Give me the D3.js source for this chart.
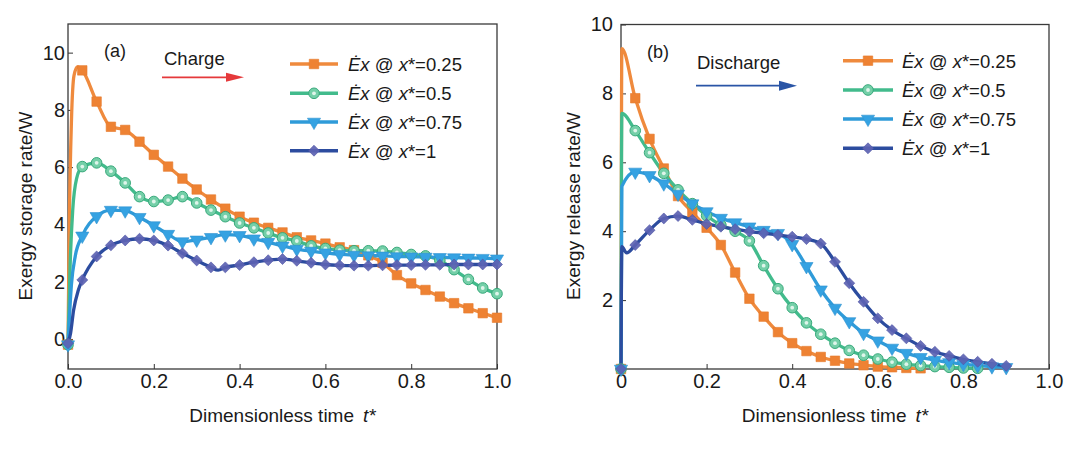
<!DOCTYPE html>
<html><head><meta charset="utf-8">
<script src="https://cdn.jsdelivr.net/npm/d3@7"></script>
<style>
body{margin:0;background:#fff}
svg{font-family:"Liberation Sans",Arial,Helvetica,sans-serif;display:block}
</style>
</head><body>
<svg id="c" width="1080" height="452"></svg>
<script>
// ---------- shared ----------
const tMarks = [0,0.0333,0.0667,0.1,0.1333,0.1667,0.2,0.2333,0.2667,0.3,0.3333,0.3667,0.4,0.4333,0.4667,0.5,0.5333,0.5667,0.6,0.6333,0.6667,0.7,0.7333,0.7667,0.8,0.8333,0.8667,0.9,0.9333,0.9667,1.0];
const seriesLabels = ["0.25","0.5","0.75","1"];
const xTickVals = [0,0.2,0.4,0.6,0.8,1.0];
const aYTicks = [0,2,4,6,8,10];
const bYTicks = [2,4,6,8,10];

// ---------- panel (a): charge ----------
const aOrange    = [-0.2,9.38,8.29,7.41,7.30,6.89,6.43,6.02,5.6,5.22,4.87,4.55,4.27,4.06,3.88,3.72,3.55,3.44,3.33,3.2,3.1,2.92,2.66,2.23,1.94,1.71,1.48,1.25,1.07,0.9,0.74];
const aGreen     = [-0.2,6.02,6.15,5.86,5.45,4.97,4.8,4.85,4.97,4.75,4.5,4.27,4.05,3.88,3.7,3.53,3.42,3.25,3.16,3.1,3.08,3.08,3.07,3.02,2.95,2.9,2.75,2.42,2.08,1.78,1.58];
const aLightBlue = [-0.2,3.6,4.28,4.5,4.48,4.25,3.96,3.66,3.4,3.46,3.55,3.64,3.62,3.5,3.38,3.25,3.14,3.07,3.01,2.96,2.93,2.91,2.9,2.88,2.87,2.86,2.85,2.84,2.83,2.82,2.8];
const aDarkBlue  = [-0.15,2.06,2.88,3.27,3.44,3.5,3.44,3.26,2.99,2.74,2.5,2.5,2.58,2.68,2.75,2.79,2.73,2.66,2.6,2.57,2.56,2.56,2.57,2.58,2.58,2.59,2.59,2.6,2.6,2.6,2.6];
// extra (unmarked) line points [t, value]
const aOrangeExtra    = [[0.003,4.0],[0.008,7.6],[0.014,9.2],[0.022,9.5]];
const aGreenExtra     = [[0.005,2.6],[0.011,4.5],[0.02,5.6]];
const aLightBlueExtra = [[0.008,1.9],[0.017,2.9]];
const aDarkBlueExtra  = [[0.006,0.2],[0.013,1.0],[0.024,1.7],[0.35,2.4]];

// ---------- panel (b): discharge ----------
const bOrange    = [0,7.86,6.68,5.82,5.02,4.55,4.1,3.6,2.8,2.04,1.52,1.07,0.75,0.52,0.35,0.24,0.16,0.11,0.07,0.05,0.03,0.02];
const bGreen     = [0,6.92,6.28,5.68,5.2,4.8,4.45,4.18,4.0,3.72,3.0,2.33,1.78,1.34,1.01,0.75,0.54,0.4,0.29,0.2,0.14,0.1,0.07,0.05,0.03,0.02];
const bLightBlue = [0,5.72,5.62,5.38,5.08,4.8,4.57,4.38,4.25,4.13,4.03,3.94,3.62,2.98,2.3,1.77,1.38,1.04,0.82,0.61,0.46,0.34,0.26,0.19,0.14,0.1,0.07,0.05];
const bDarkBlue  = [0,3.6,4.03,4.37,4.44,4.33,4.21,4.13,4.06,3.99,3.94,3.89,3.84,3.77,3.64,3.11,2.49,1.95,1.47,1.13,0.89,0.67,0.5,0.38,0.28,0.21,0.15,0.09];
const bOrangeExtra    = [[0.002,9.3]];
const bGreenExtra     = [[0.002,7.42]];
const bLightBlueExtra = [[0.002,5.3]];
const bDarkBlueExtra  = [[0.002,3.55],[0.013,3.37]];

// ---------- styles ----------
const styles = [
  {line:"#ef8a3d", fill:"#ee8233", stroke:"#e67a2c", shape:"square"},
  {line:"#42bb8c", fill:"#74cfa8", stroke:"#38a97b", shape:"circle"},
  {line:"#2f9bd9", fill:"#35a2e2", stroke:"#2f92d0", shape:"tri"},
  {line:"#2c4c9f", fill:"#5c62b2", stroke:"#4f55a6", shape:"diamond"}
];

const svg = d3.select("#c");

function drawMarker(g, s, cx, cy){
  if (s.shape === "square") {
    g.append("path").attr("d", d3.symbol(d3.symbolSquare, 90)())
      .attr("transform",`translate(${cx},${cy})`).attr("fill",s.fill).attr("stroke",s.stroke).attr("stroke-width",0.6);
  } else if (s.shape === "circle") {
    g.append("circle").attr("cx",cx).attr("cy",cy).attr("r",5.3)
      .attr("fill",s.fill).attr("stroke",s.stroke).attr("stroke-width",1);
    g.append("circle").attr("cx",cx).attr("cy",cy).attr("r",1.9).attr("fill","#dff5ea");
  } else if (s.shape === "tri") {
    g.append("path").attr("d", d3.symbol(d3.symbolTriangle, 75)())
      .attr("transform",`translate(${cx},${cy}) rotate(180)`).attr("fill",s.fill).attr("stroke",s.stroke).attr("stroke-width",0.6);
  } else {
    g.append("path").attr("d", d3.symbol(d3.symbolSquare, 60)())
      .attr("transform",`translate(${cx},${cy}) rotate(45)`).attr("fill",s.fill).attr("fill-opacity",0.92).attr("stroke",s.stroke).attr("stroke-width",0.6);
  }
}

function panel(cfg){
  const x = d3.scaleLinear().domain([0,1]).range([cfg.x0,cfg.x1]);
  const y = d3.scaleLinear().domain(cfg.yDom).range([cfg.y1,cfg.y0]);
  const g = svg.append("g");

  // axes
  const xa = g.append("g").attr("transform",`translate(0,${cfg.y1})`)
    .call(d3.axisBottom(x).tickValues(xTickVals).tickFormat(cfg.xFmt).tickSizeInner(-5).tickSizeOuter(0).tickPadding(5));
  xa.select(".domain").remove();
  xa.selectAll("text").attr("font-size",20).attr("fill","#1a1a1a").attr("font-family",null);
  xa.selectAll("line").attr("stroke","#333");
  const ya = g.append("g").attr("transform",`translate(${cfg.x0},0)`)
    .call(d3.axisLeft(y).tickValues(cfg.yTicks).tickFormat(d3.format("d")).tickSizeInner(-5).tickSizeOuter(0).tickPadding(cfg.yPad));
  ya.select(".domain").remove();
  ya.selectAll("text").attr("font-size",20).attr("fill","#1a1a1a").attr("font-family",null);
  ya.selectAll("line").attr("stroke","#333");

  // frame
  g.append("rect").attr("x",cfg.x0).attr("y",cfg.y0).attr("width",cfg.x1-cfg.x0).attr("height",cfg.y1-cfg.y0)
    .attr("fill","none").attr("stroke","#3a3a3a").attr("stroke-width",1.3);

  // titles
  const xt = g.append("text").attr("x",(cfg.x0+cfg.x1)/2).attr("y",422).attr("text-anchor","middle")
    .attr("font-size",19).attr("fill","#1a1a1a");
  xt.append("tspan").text("Dimensionless time");
  xt.append("tspan").attr("dx",9).attr("font-style","italic").text("t*");
  g.append("text").attr("transform",`translate(${cfg.ytx},${cfg.yty}) rotate(-90)`).attr("text-anchor","middle")
    .attr("font-size",19).attr("fill","#1a1a1a").text(cfg.yTitle);

  // series
  const line = d3.line().x(d=>x(d[0])).y(d=>y(d[1])).curve(d3.curveMonotoneX);
  cfg.series.forEach((vals,i)=>{
    const s = styles[i];
    const marks = vals.map((v,k)=>[tMarks[k], v]);
    const pts = marks.concat(cfg.extras[i]).sort((a,b)=>a[0]-b[0]);
    g.append("path").attr("d",line(pts)).attr("fill","none").attr("stroke",s.line)
      .attr("stroke-width",3.3).attr("stroke-linejoin","round");
  });
  cfg.series.forEach((vals,i)=>{
    const s = styles[i];
    const mg = g.append("g");
    vals.forEach((v,k)=>drawMarker(mg, s, x(tMarks[k]), y(v)));
  });

  // legend
  cfg.legY.forEach((ly,i)=>{
    const s = styles[i];
    g.append("line").attr("x1",cfg.legX0).attr("x2",cfg.legX1).attr("y1",ly).attr("y2",ly)
      .attr("stroke",s.line).attr("stroke-width",3.4);
    drawMarker(g, s, (cfg.legX0+cfg.legX1)/2, ly);
    const t = g.append("text").attr("x",cfg.legTx).attr("y",ly+7).attr("font-size",18.5).attr("fill","#1a1a1a");
    t.append("tspan").attr("font-style","italic").text("\u0116x");
    t.append("tspan").text(" @ ");
    t.append("tspan").attr("font-style","italic").text("x");
    t.append("tspan").text("*=" + seriesLabels[i]);
  });

  // annotations
  g.append("text").attr("x",cfg.tagX).attr("y",cfg.tagY).attr("font-size",18).attr("fill","#1a1a1a").text(cfg.tag);
  g.append("text").attr("x",cfg.annX).attr("y",cfg.annY).attr("font-size",18.5).attr("fill","#1a1a1a").text(cfg.ann);
  g.append("line").attr("x1",cfg.arX0).attr("x2",cfg.arX1-12).attr("y1",cfg.arY).attr("y2",cfg.arY)
    .attr("stroke",cfg.arC).attr("stroke-width",1.8);
  g.append("path").attr("d",`M${cfg.arX1},${cfg.arY} L${cfg.arX1-18},${cfg.arY-cfg.arH} L${cfg.arX1-18},${cfg.arY+cfg.arH} Z`)
    .attr("fill",cfg.arC);
}

panel({
  x0:68, x1:497, y0:24, y1:369, yDom:[-1.05,11], yTicks:aYTicks, yPad:3,
  xFmt:d3.format(".1f"),
  yTitle:"Exergy storage rate/W", ytx:32, yty:206,
  series:[aOrange,aGreen,aLightBlue,aDarkBlue],
  extras:[aOrangeExtra,aGreenExtra,aLightBlueExtra,aDarkBlueExtra],
  legY:[64,93.3,122,150.7], legX0:290, legX1:338, legTx:348,
  tag:"(a)", tagX:104, tagY:57, ann:"Charge", annX:164, annY:65,
  arX0:162, arX1:244, arY:77.3, arH:4.5, arC:"#e5393b"
});

panel({
  x0:621, x1:1049, y0:24.5, y1:369, yDom:[0,10], yTicks:bYTicks, yPad:8,
  xFmt:d=> d===0 ? "0" : d3.format(".1f")(d),
  yTitle:"Exergy release rate/W", ytx:580, yty:206,
  series:[bOrange,bGreen,bLightBlue,bDarkBlue],
  extras:[bOrangeExtra,bGreenExtra,bLightBlueExtra,bDarkBlueExtra],
  legY:[60.7,90,119,148.3], legX0:843, legX1:893, legTx:902,
  tag:"(b)", tagX:647, tagY:58, ann:"Discharge", annX:697, annY:69,
  arX0:696, arX1:797, arY:85.7, arH:5, arC:"#2a55a6"
});
</script>
</body></html>
